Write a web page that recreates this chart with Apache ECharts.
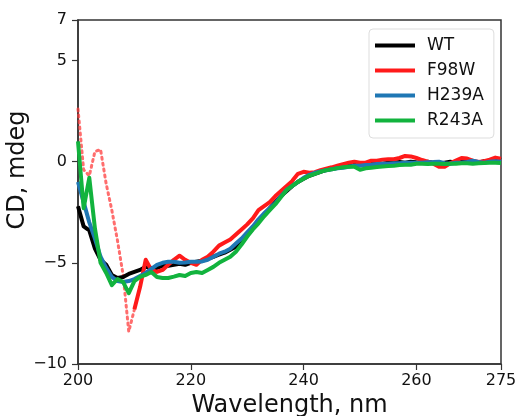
<!DOCTYPE html>
<html>
<head>
<meta charset="utf-8">
<script src="https://cdn.jsdelivr.net/npm/echarts@6/dist/echarts.min.js"></script>
<style>
    html, body { margin: 0; padding: 0; background: #fff; }
    #chart { width: 516px; height: 416px; }
</style>
</head>
<body>
<div id="chart"></div>
<script>
// wavelength, nm
const wavelengths = [
    200, 201, 202, 203, 204, 205, 206, 207, 208, 209, 210, 211, 212, 213, 214, 215, 216, 217, 218, 219,
    220, 221, 222, 223, 224, 225, 226, 227, 228, 229, 230, 231, 232, 233, 234, 235, 236, 237, 238, 239,
    240, 241, 242, 243, 244, 245, 246, 247, 248, 249, 250, 251, 252, 253, 254, 255, 256, 257, 258, 259,
    260, 261, 262, 263, 264, 265, 266, 267, 268, 269, 270, 271, 272, 273, 274, 275,
];

const wt = [
    -2.2, -3.2, -3.4, -4.3, -4.85, -5.1, -5.6, -5.75, -5.7, -5.55, -5.45, -5.35, -5.2, -5.25, -5.25, -5.15, -5.15, -5.1, -5.05, -5.1,
    -5.0, -4.95, -4.9, -4.8, -4.7, -4.6, -4.5, -4.35, -4.2, -4.0, -3.65, -3.3, -2.9, -2.6, -2.3, -2.0, -1.7, -1.45, -1.2, -1.0,
    -0.85, -0.7, -0.6, -0.5, -0.42, -0.35, -0.3, -0.25, -0.2, -0.15, -0.15, -0.12, -0.1, -0.08, -0.1, -0.05, -0.05, -0.02, -0.05, 0.0,
    -0.03, -0.05, 0.0, -0.05, -0.1, -0.05, 0.0, -0.05, 0.02, 0.0, 0.0, -0.05, 0.02, 0.05, 0.15, 0.1,
];

// F98W: 200-210 nm shown dotted, 210-275 nm solid
const f98wLowX = [200, 201, 202, 203, 204, 205, 206, 207, 208, 209, 210];
const f98wLow = [2.6, -0.4, -0.7, 0.5, 0.6, -1.1, -2.4, -3.9, -5.6, -8.4, -7.3];
const f98w = [
    null, null, null, null, null, null, null, null, null, null,
    -7.3, -6.2, -4.85, -5.35, -5.45, -5.35, -5.1, -4.85, -4.65, -4.85,
    -5.0, -5.1, -4.85, -4.7, -4.45, -4.15, -4.0, -3.85, -3.6, -3.35, -3.1, -2.8, -2.4, -2.2, -2.0, -1.7, -1.45, -1.2, -0.95, -0.6,
    -0.5, -0.55, -0.52, -0.42, -0.35, -0.28, -0.2, -0.12, -0.05, 0.0, -0.05, -0.05, 0.05, 0.05, 0.1, 0.12, 0.12, 0.18, 0.28, 0.26,
    0.18, 0.08, 0.0, -0.1, -0.25, -0.25, -0.08, 0.05, 0.18, 0.15, 0.05, -0.02, 0.02, 0.1, 0.2, 0.15,
];

const h239a = [
    -1.0, -2.0, -3.0, -3.8, -4.7, -5.25, -5.7, -5.9, -5.95, -5.9, -5.8, -5.65, -5.5, -5.3, -5.1, -5.0, -4.95, -4.95, -5.0, -4.98,
    -4.95, -4.95, -4.93, -4.85, -4.7, -4.55, -4.45, -4.3, -4.05, -3.8, -3.5, -3.2, -2.85, -2.55, -2.3, -2.05, -1.7, -1.4, -1.2, -1.0,
    -0.8, -0.65, -0.55, -0.48, -0.42, -0.38, -0.33, -0.3, -0.25, -0.2, -0.2, -0.17, -0.15, -0.12, -0.1, -0.1, -0.08, -0.08, -0.06, -0.05,
    -0.05, -0.05, -0.03, -0.02, 0.0, -0.08, -0.1, -0.05, -0.05, -0.02, 0.05, -0.02, -0.05, 0.0, 0.02, 0.0,
];

const r243a = [
    1.0, -2.3, -0.8, -3.3, -5.0, -5.5, -6.1, -5.8, -5.95, -6.5, -5.9, -5.7, -5.6, -5.45, -5.7, -5.75, -5.75, -5.68, -5.6, -5.65,
    -5.5, -5.45, -5.5, -5.35, -5.2, -5.0, -4.85, -4.7, -4.45, -4.1, -3.7, -3.35, -3.05, -2.7, -2.4, -2.1, -1.75, -1.4, -1.2, -1.0,
    -0.85, -0.7, -0.6, -0.5, -0.42, -0.38, -0.32, -0.28, -0.25, -0.25, -0.4, -0.33, -0.3, -0.27, -0.24, -0.22, -0.2, -0.17, -0.15, -0.15,
    -0.1, -0.1, -0.12, -0.1, -0.1, -0.12, -0.1, -0.1, -0.08, -0.08, -0.1, -0.08, -0.07, -0.06, -0.05, -0.07,
];

const xTicks = [200, 220, 240, 260, 275];
const yTicks = [-10, -5, 0, 5, 7];

const font = 'DejaVu Sans';
const axisColor = '#333';

const pairs = (xs, ys) => xs.map((x, i) => [x, ys[i]]);

const lineSeries = (name, xs, ys, color) => ({
    name,
    type: 'line',
    data: pairs(xs, ys),
    showSymbol: false,
    symbol: 'none',
    connectNulls: false,
    lineStyle: { color, width: 4, join: 'round' },
    itemStyle: { color },
    emphasis: { disabled: true },
});

const chart = echarts.init(document.getElementById('chart'));

chart.setOption({
    backgroundColor: '#fff',
    animation: false,
    grid: {
        left: 78,
        right: 15,
        top: 20,
        bottom: 52,
        outerBoundsMode: 'none',
        show: true,
        borderColor: axisColor,
        borderWidth: 1.5,
    },
    legend: {
        data: ['WT', 'F98W', 'H239A', 'R243A'],
        orient: 'vertical',
        left: 369,
        top: 29,
        padding: [8, 10, 9, 6],
        itemWidth: 40,
        itemHeight: 4,
        itemGap: 8,
        icon: 'rect',
        borderColor: '#ddd',
        borderWidth: 1,
        borderRadius: 4,
        selectedMode: false,
        textStyle: { fontFamily: font, fontSize: 17, color: '#111', padding: [0, 0, 0, 7] },
    },
    xAxis: {
        type: 'value',
        min: 200,
        max: 275,
        axisLine: { onZero: false, lineStyle: { color: axisColor, width: 1.5 } },
        axisTick: { show: true, length: 6, customValues: xTicks, lineStyle: { color: axisColor, width: 1.2 } },
        axisLabel: { customValues: xTicks, margin: 9, fontFamily: font, fontSize: 16, color: '#111' },
        splitLine: { show: false },
        name: 'Wavelength, nm',
        nameLocation: 'middle',
        nameGap: 26,
        nameTextStyle: { fontFamily: font, fontSize: 24, color: '#111' },
    },
    yAxis: {
        type: 'value',
        min: -10,
        max: 7,
        axisLine: { show: true, onZero: false, lineStyle: { color: axisColor, width: 1.5 } },
        axisTick: { show: true, length: 6, customValues: yTicks, lineStyle: { color: axisColor, width: 1.2 } },
        axisLabel: {
            customValues: yTicks,
            margin: 11,
            fontFamily: font,
            fontSize: 16,
            color: '#111',
            formatter: (v) => (v < 0 ? '\u2212' + Math.abs(v) : String(v)),
        },
        splitLine: { show: false },
    },
    graphic: [
        {
            type: 'text',
            x: 18,
            y: 170,
            rotation: Math.PI / 2,
            style: {
                text: 'CD, mdeg',
                fontFamily: font,
                fontSize: 24,
                fill: '#111',
                align: 'center',
                verticalAlign: 'middle',
            },
        },
    ],
    series: [
        lineSeries('WT', wavelengths, wt, '#000000'),
        lineSeries('F98W', wavelengths, f98w, '#ff1a1a'),
        lineSeries('H239A', wavelengths, h239a, '#1f77b4'),
        lineSeries('R243A', wavelengths, r243a, '#12b33e'),
        {
            name: 'F98W (dotted)',
            type: 'line',
            data: pairs(f98wLowX, f98wLow),
            showSymbol: false,
            symbol: 'none',
            lineStyle: { color: 'rgba(255, 60, 60, 0.75)', width: 3, type: [2, 4], cap: 'round' },
            emphasis: { disabled: true },
            z: 1,
        },
    ],
});
</script>
</body>
</html>
